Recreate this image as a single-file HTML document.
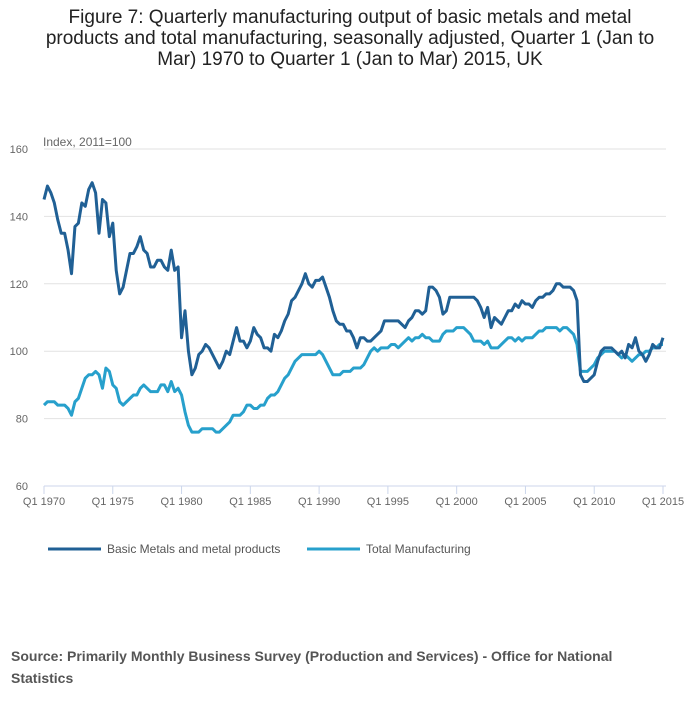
<!DOCTYPE html>
<html><head><meta charset="utf-8"><style>
body{margin:0;width:700px;height:707px;background:#fff;font-family:"Liberation Sans",sans-serif;overflow:hidden}
#title{position:absolute;left:0;top:7px;width:700px;text-align:center;font-size:19px;line-height:21px;color:#222}
#src{position:absolute;left:11px;top:645px;font-size:14px;font-weight:bold;color:#555;line-height:22px}
svg{position:absolute;left:0;top:0}
</style></head><body>
<div id="title">Figure 7: Quarterly manufacturing output of basic metals and metal<br>products and total manufacturing, seasonally adjusted, Quarter 1 (Jan to<br>Mar) 1970 to Quarter 1 (Jan to Mar) 2015, UK</div>
<svg id="chart" width="700" height="707"></svg>
<div id="src">Source: Primarily Monthly Business Survey (Production and Services) - Office for National<br>Statistics</div>
<script>
const startYear = 1970;
const yTicks = [60,80,100,120,140,160];
const xTickYears = [1970,1975,1980,1985,1990,1995,2000,2005,2010,2015];
const seriesNames = ["Basic Metals and metal products","Total Manufacturing"];
const metals = [145,149,147,144, 139,135,135,130, 123,137,138,144, 143,148,150,147, 135,145,144,134, 138,124,117,119, 124,129,129,131, 134,130,129,125, 125,127,127,125, 124,130,124,125, 104,112,100,93, 95,99,100,102, 101,99,97,95, 97,100,99,103, 107,103,103,101, 103,107,105,104, 101,101,100,105, 104,106,109,111, 115,116,118,120, 123,120,119,121, 121,122,119,116, 112,109,108,108, 106,106,104,101, 104,104,103,103, 104,105,106,109, 109,109,109,109, 108,107,109,110, 112,112,111,112, 119,119,118,116, 111,112,116,116, 116,116,116,116, 116,116,115,113, 110,113,107,110, 109,108,110,112, 112,114,113,115, 114,114,113,115, 116,116,117,117, 118,120,120,119, 119,119,118,115, 93,91,91,92, 93,97,100,101, 101,101,100,99, 100,98,102,101, 104,100,99,97, 99,102,101,101, 104];
const manuf = [84,85,85,85, 84,84,84,83, 81,85,86,89, 92,93,93,94, 93,89,95,94, 90,89,85,84, 85,86,87,87, 89,90,89,88, 88,88,90,90, 88,91,88,89, 87,82,78,76, 76,76,77,77, 77,77,76,76, 77,78,79,81, 81,81,82,84, 84,83,83,84, 84,86,87,87, 88,90,92,93, 95,97,98,99, 99,99,99,99, 100,99,97,95, 93,93,93,94, 94,94,95,95, 95,96,98,100, 101,100,101,101, 101,102,102,101, 102,103,104,103, 104,104,105,104, 104,103,103,103, 105,106,106,106, 107,107,107,106, 105,103,103,103, 102,103,101,101, 101,102,103,104, 104,103,104,103, 104,104,104,105, 106,106,107,107, 107,107,106,107, 107,106,105,102, 94,94,94,95, 96,98,99,100, 100,100,100,99, 98,99,98,97, 98,99,99,100, 100,101,101,102, 102];
const colors = ["#206095","#27a0cc"];
const svg = document.getElementById('chart');
const NS = "http://www.w3.org/2000/svg";
const x0=44, x1=663, yTop=149, yBot=486;
const nQ = metals.length;
const xS = q => x0 + q*(x1-x0)/(nQ-1);
const yS = v => yBot - (v-60)*(yBot-yTop)/100;
function mk(tag, attrs){const e=document.createElementNS(NS,tag);for(const k in attrs)e.setAttribute(k,attrs[k]);svg.appendChild(e);return e;}
yTicks.forEach(t=>{
  if(t!==60){
    const g=mk('line',{x1:x0,x2:666,y1:yS(t),y2:yS(t),stroke:'#e2e2e2','stroke-width':1});
    
    
  }
  const l=mk('text',{x:28,y:yS(t)+4,'font-size':11,fill:'#666','text-anchor':'end'});
  l.textContent=t;
  
  
});
const ax=mk('line',{x1:x0,x2:666,y1:yBot,y2:yBot,stroke:'#ccd6eb','stroke-width':1});


const yt=mk('text',{x:43,y:146,'font-size':12,fill:'#666'});
yt.textContent='Index, 2011=100';


xTickYears.forEach(y=>{
  const q=(y-startYear)*4, x=xS(q);
  const tk=mk('line',{x1:x,x2:x,y1:yBot,y2:yBot+8,stroke:'#ccd6eb'});
  
  
  const l=mk('text',{x:x,y:505,'font-size':11,fill:'#666','text-anchor':'middle'});
  l.textContent='Q1 '+y;
  
  
});
[manuf,metals].forEach((s)=>{
  const ci = s===metals?0:1;
  const p=mk('polyline',{points:s.map((v,q)=>xS(q)+','+yS(v)).join(' '),fill:'none',stroke:colors[ci],'stroke-width':3,'stroke-linejoin':'round'});
  
  
});
const lx=[48,307];
seriesNames.forEach((n,i)=>{
  const ln=mk('line',{x1:lx[i],x2:lx[i]+53,y1:549,y2:549,stroke:colors[i],'stroke-width':3});
  
  
  const t=mk('text',{x:lx[i]+59,y:553,'font-size':12,fill:'#555'});
  t.textContent=n;
  
  
});
</script>
</body></html>
